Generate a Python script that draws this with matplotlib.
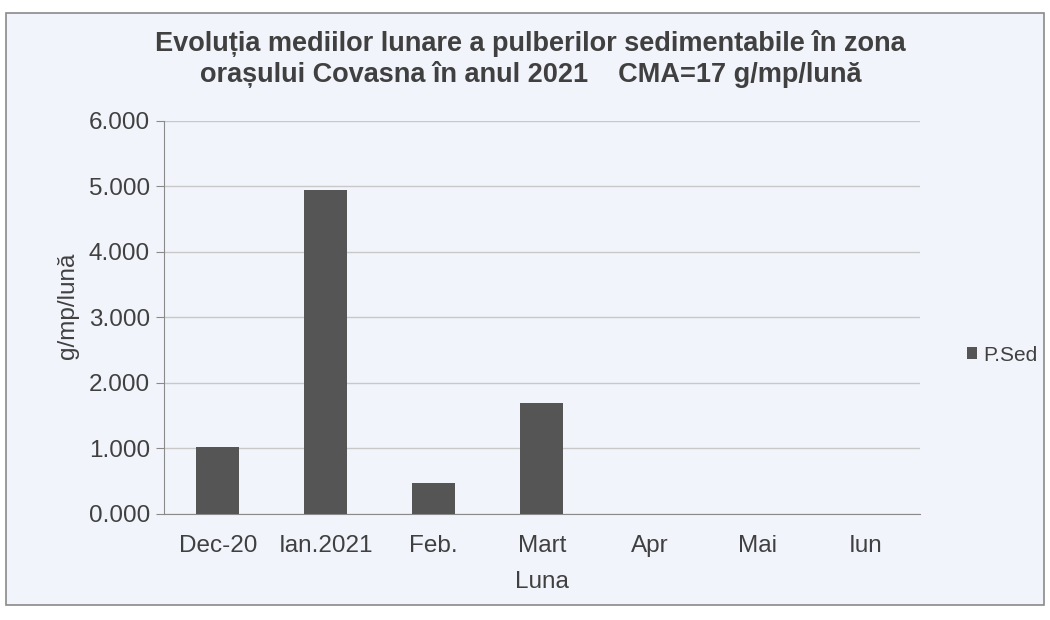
import matplotlib
matplotlib.use("Agg")
import matplotlib.pyplot as plt
from matplotlib.patches import Rectangle

plt.rcParams['font.family'] = ['Liberation Sans', 'DejaVu Sans']

# data
luni = ['Dec-20', 'Ian.2021', 'Feb.', 'Mart', 'Apr', 'Mai', 'Iun']
p_sed = [1.02, 4.94, 0.47, 1.70, 0, 0, 0]
y_ticks = [0, 1, 2, 3, 4, 5, 6]
y_labels = ['0.000', '1.000', '2.000', '3.000', '4.000', '5.000', '6.000']

bg = '#f1f4fa'
txt = '#404040'

fig = plt.figure(figsize=(10.5, 6.2), dpi=100, facecolor='white')
fig.patches.append(Rectangle((0.006, 0.024), 0.988, 0.955, transform=fig.transFigure,
                             facecolor=bg, edgecolor='#8a8a8a', linewidth=1.2,
                             zorder=-10))
ax = fig.add_axes([0.156, 0.171, 0.72, 0.634])
ax.set_facecolor(bg)

x = range(len(luni))
ax.bar(x, p_sed, width=0.4, color='#555555', label='P.Sed', zorder=3)

ax.set_xlim(-0.5, len(luni) - 0.5)
ax.set_ylim(0, 6)
ax.set_yticks(y_ticks)
ax.set_yticklabels(y_labels)
ax.set_xticks(list(x))
ax.set_xticklabels(luni)
ax.tick_params(axis='both', labelsize=17.5, labelcolor=txt, colors='#8a8a8a')
ax.tick_params(axis='x', length=0, pad=15)
ax.tick_params(axis='y', length=6, direction='out', pad=4)
ax.grid(axis='y', color='#c8c8c8', linewidth=1, zorder=0)
for s in ['top', 'right']:
    ax.spines[s].set_visible(False)
ax.spines['left'].set_color('#8a8a8a')
ax.spines['bottom'].set_color('#8a8a8a')

ax.set_xlabel('Luna', fontsize=17.5, color=txt, labelpad=10)
ax.set_ylabel('g/mp/lună', fontsize=17.5, color=txt, labelpad=2)
ax.yaxis.set_label_coords(-0.112, 0.53)

fig.text(0.505, 0.905, 'Evoluția mediilor lunare a pulberilor sedimentabile în zona\n'
         'orașului Covasna în anul 2021    CMA=17 g/mp/lună',
         ha='center', va='center', fontsize=19.5, fontweight='bold', color=txt,
         linespacing=1.2)

leg = fig.legend(loc='center left', bbox_to_anchor=(0.903, 0.427), frameon=False,
                 fontsize=15, handlelength=0.5, handleheight=0.5, handletextpad=0.3)
for t in leg.get_texts():
    t.set_color(txt)

fig.savefig('out.png', dpi=100, facecolor='white')
